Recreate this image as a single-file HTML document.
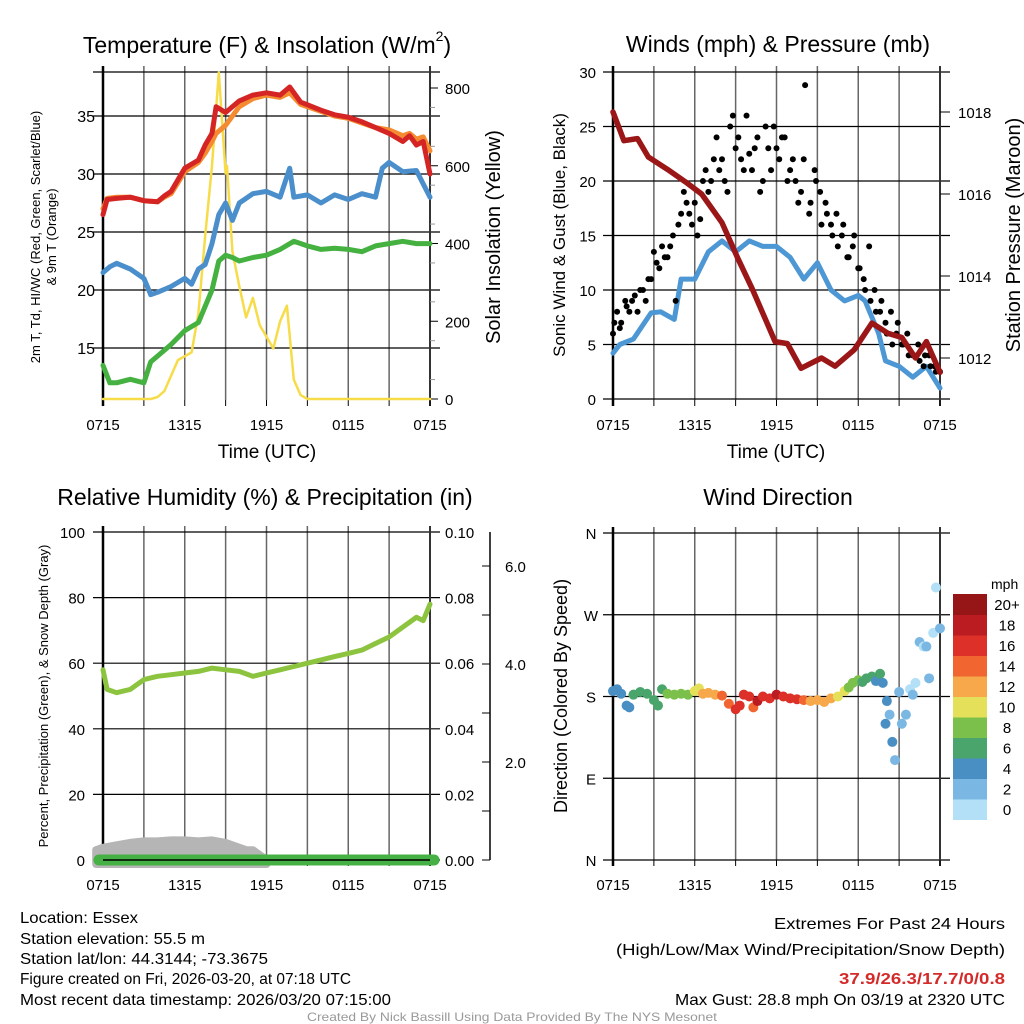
<!DOCTYPE html>
<html><head><meta charset="utf-8"><style>
body{margin:0;background:#fff;}
svg{display:block;font-family:"Liberation Sans",sans-serif;}
</style></head><body>
<svg id="c" width="1024" height="1024" viewBox="0 0 1024 1024">
<g id="g"></g>
</svg>
<script>
// ---- time axis (hours since 0715 UTC) ----
const timeTicks = ["0715","","1315","","1915","","0115","","0715"];
// ---- temperature panel ----
const tempT   = [0,0.3,1,2,3,4,4.5,5,6,7,7.5,8,8.3,9,10,11,12,13,13.7,14.5,16,17,18,19,20,21,22,22.5,23,23.5,24];
const tempRed = [26.5,27.8,27.9,28,27.7,27.6,28.1,28.5,30.5,31.2,32.5,33.5,35.8,35.3,36.3,36.8,37,36.8,37.5,36.2,35.5,35.1,34.9,34.5,34,33.5,32.8,33.3,32.5,32.8,30];
const tempOrange = [27,27.9,28,28,27.7,27.6,28,28.3,30.2,31,31.8,32.8,33.5,34.2,35.8,36.5,36.8,36.6,37,36,35.4,35,34.8,34.4,34,33.8,33.3,33.5,33,33.2,32];
const dewT    = [0,0.5,1,2,3,3.5,4,5,6,6.5,7,7.5,8,8.5,9,9.5,10,11,12,13,13.7,14,15,16,17,18,19,20,20.5,21,22,23,24];
const dewBlue = [21.5,22,22.3,21.8,21,19.6,19.8,20.3,21,20.5,21.8,22.2,24,26.5,27.5,26,27.5,28.3,28.5,28,30.5,28,28.2,27.5,28.2,27.8,28.3,28,30.5,31,30.2,30.3,28];
const greenT  = [0,0.5,1,2,3,3.5,4,5,6,7,8,8.5,9,9.5,10,11,12,13,14,15,16,17,18,19,20,21,22,23,24];
const greenV  = [13.5,12,12,12.3,12,13.8,14.3,15.3,16.5,17.2,20,22.5,23,22.8,22.5,22.8,23,23.5,24.2,23.8,23.5,23.6,23.5,23.3,23.8,24,24.2,24,24];
const solarT  = [0,3.5,4,4.5,5,5.5,6,6.5,7,7.5,8,8.5,9,9.1,9.5,10,10.5,11,11.5,12,12.5,13,13.5,14,14.5,15,24];
const solarV  = [0,0,5,20,60,100,110,120,220,420,600,840,580,600,380,290,210,260,190,160,130,200,240,50,10,0,0];
const tempTicks = [15,20,25,30,35];
const solarTicks = [0,200,400,600,800];
// ---- wind panel ----
const windT  = [0,0.5,1.5,2.8,3.5,4.5,5,6,7,8,9,10,11,12,13,14,15,16,17,18,18.5,19.5,20,21,22,23,24];
const windV  = [4.2,5,5.5,7.9,8,7.3,11,11,13.5,14.5,13.5,14.5,14,14,13,11,12.5,10,9,9.5,9,6,3.5,3,2,3,1];
const gustT  = [0,0.3,0.6,1,1.4,1.8,2.2,2.6,3,3.4,3.8,4.2,4.6,5,5.4,5.8,6.2,6.6,7,7.4,7.8,8.2,8.6,9,9.4,9.8,10.2,10.6,11,11.4,11.8,12.2,12.6,13,13.4,13.8,14.1,14.5,14.9,15.3,15.7,16.1,16.5,16.9,17.3,17.7,18.1,18.5,18.9,19.3,19.7,20.1,20.5,20.9,21.3,21.7,22.1,22.5,22.9,23.3,23.7,24];
const gustV  = [6,8,7,8.5,9,8,10,11,13.5,12,13,14,9,17,18,16,15,20,19,22,21,20,25,23,22,26,21,24,20,23,25,22,24,21,20,19,28.8,18,20,16,17,15,14,16,13,15,12,10,9,8,9,6,5,7,5,4,4,3.5,4,3,2.5,2.5];
const gust2T = [0.1,0.5,0.9,1.2,1.6,2,2.4,2.8,3.2,3.6,4,4.4,4.8,5.2,5.6,6,6.4,6.8,7.2,7.6,8,8.4,8.8,9.2,9.6,10,10.4,10.8,11.2,11.6,12,12.4,12.8,13.2,13.6,14,14.4,14.8,15.2,15.6,16,16.4,16.8,17.2,17.6,18,18.4,18.8,19.2,19.6,20,20.4,20.8,21.2,21.6,22,22.4,22.8,23.2,23.6];
const gust2V = [7,6.5,9,8,9.5,10,9,11,12.5,14,13,15,16,19,17,18,16.5,21,20,24,22,19,26,24,21,22.5,23,19,25,21,23,24,20,22,18,22,17,21,19,18,16,17,15,13,14,12,11,14,10,8,7,8,6,5,6,4,5,3,4,3];
const presT  = [0,0.8,1.8,2.6,4,5.3,6.5,8,9.2,10.2,11.9,12.8,13.8,15.3,16.3,17.7,19,20.2,21.2,22.2,23,24];
const presV  = [1018.0,1017.3,1017.35,1016.9,1016.6,1016.3,1016.0,1015.3,1014.4,1013.7,1012.4,1012.35,1011.75,1012,1011.8,1012.2,1012.85,1012.6,1012.5,1012.0,1012.4,1011.65];
const windTicks = [0,5,10,15,20,25,30];
const presTicks = [1012,1014,1016,1018];
// ---- humidity panel ----
const rhT  = [0,0.3,1,2,3,4,5,6,7,8,9,10,11,12,13,14,15,16,17,18,19,20,21,22,23,23.5,24];
const rhV  = [58,52,51,52,55,56,56.5,57,57.5,58.5,58,57.5,56,57,58,59,60,61,62,63,64,66,68,71,74,73,78];
const snowT = [-0.5,0,1,2,3,4,5,6,7,8,9,10,10.5,11,11.5,12];
const snowV = [0.2,0.25,0.3,0.35,0.38,0.38,0.4,0.4,0.38,0.4,0.35,0.25,0.2,0.2,0.1,0];
const rhTicks = [0,20,40,60,80,100];
const precipTicks = ["0.00","0.02","0.04","0.06","0.08","0.10"];
const snowTicks = ["2.0","4.0","6.0"];
// ---- wind direction panel ----
const dirT = [0,0.3,0.6,1,1.2,1.5,2,2.5,3,3.3,3.6,4,4.5,5,5.5,6,6.3,6.6,7,7.5,8,8.5,9,9.3,9.6,10,10.3,10.6,11,11.5,12,12.5,13,13.5,14,14.5,15,15.5,16,16.5,17,17.3,17.6,18,18.3,18.6,19,19.3,19.6,19.8,20,20.1,20.3,20.5,20.7,21,21.2,21.5,21.8,22,22.2,22.5,22.8,23,23.2,23.5,23.7,24];
const dirV = [186,188,183,170,168,182,185,183,176,170,188,183,182,183,182,186,189,183,184,182,181,172,166,170,182,180,168,175,180,178,182,180,178,177,176,175,176,174,178,180,186,190,195,198,196,200,202,197,205,195,150,175,160,130,110,185,150,160,188,182,195,240,235,235,200,250,300,255];
const dirS = [4,5,4,4,4,6,6,6,7,6,7,8,8,8,8,10,11,12,12,13,14,14,16,16,17,16,15,18,16,17,19,17,16,16,15,13,12,12,12,10,10,8,9,8,7,6,7,5,6,4,4,4,2,4,2,2,3,2,1,2,1,2,1,2,2,1,0,2];
const legendLabels = ["0","2","4","6","8","10","12","14","16","18","20+"];
const legendColors = ["#b3e0f7","#7ab8e3","#4a8fc4","#4aa56d","#7ac04a","#e5e05a","#f6a84a","#f06530","#dc3028","#ba1c22","#961618"];
const dirTicks = ["N","E","S","W","N"];

const NS="http://www.w3.org/2000/svg";
const G=document.getElementById('g');
function mk(tag,attrs,parent,text){const e=document.createElementNS(NS,tag);for(const k in attrs)e.setAttribute(k,attrs[k]);if(text!==undefined)e.textContent=text;(parent||G).appendChild(e);return e;}
function lin(d0,d1,r0,r1){return v=>r0+(v-d0)*(r1-r0)/(d1-d0);}
function pathOf(ts,vs,fx,fy){return ts.map((t,i)=>(i?'L':'M')+fx(t).toFixed(1)+','+fy(vs[i]).toFixed(1)).join('');}

function frame(x0,x1,y0,y1,hTicksY,name){
  const g=mk('g',{});
  
  
  const fx=lin(0,24,x0,x1);
  for(let i=1;i<8;i++){mk('line',{x1:fx(i*3),x2:fx(i*3),y1:y0-6,y2:y1,stroke:'#666','stroke-width':1.5},g);}
  hTicksY.forEach(y=>{mk('line',{x1:x0-10,x2:x1+10,y1:y,y2:y,stroke:'#000','stroke-width':1.2},g);});
  mk('line',{x1:x0,x2:x0,y1:y0-6,y2:y1+6,stroke:'#000','stroke-width':2.5},g);
  mk('line',{x1:x1,x2:x1,y1:y0-6,y2:y1+6,stroke:'#333','stroke-width':2},g);
  for(let i=0;i<=8;i++){
    mk('line',{x1:fx(i*3),x2:fx(i*3),y1:y1,y2:y1+6,stroke:'#000','stroke-width':1},g);
    if(timeTicks[i]){const t=mk('text',{x:fx(i*3),y:y1+30,'font-size':15,'text-anchor':'middle'},g,timeTicks[i]);
      }
  }
  return fx;
}
function txt(x,y,s,str,name,extra){const t=mk('text',Object.assign({x:x,y:y,'font-size':s},extra||{}),G,str);
  return t;}
function vtxt(x,y,s,str,name){const t=mk('text',{x:0,y:0,'font-size':s,'text-anchor':'middle',transform:`translate(${x},${y}) rotate(-90)`},G,str);
  return t;}
function series(d,color,w,name,parent){const p=mk('path',{d:d,fill:'none',stroke:color,'stroke-width':w,'stroke-linejoin':'round','stroke-linecap':'round'},parent);
  return p;}

// ===== Panel 1: Temperature =====
{
 const fyT=lin(35,30,116,174), fyS=lin(0,800,399,88);
 const fx=frame(103,430,72,400,[72].concat(tempTicks.map(fyT)),'temperature');
 tempTicks.forEach(v=>txt(95,fyT(v)+6,16,String(v),'temp-y-tick',{'text-anchor':'end'}));
 solarTicks.forEach(v=>{txt(445,fyS(v)+6,15,String(v),'solar-y-tick');mk('line',{x1:430,x2:438,y1:fyS(v),y2:fyS(v),stroke:'#000'});});
 for(let v=50;v<800;v+=100)mk('line',{x1:430,x2:435,y1:fyS(v),y2:fyS(v),stroke:'#999'});
 series(pathOf(solarT,solarV,fx,fyS),'#f7dc4a',2.5,'solar-insolation-line');
 series(pathOf(greenT,greenV,fx,fyT),'#44b140',5,'hi-wc-line');
 series(pathOf(dewT,dewBlue,fx,fyT),'#4a8fcb',5,'dewpoint-line');
 series(pathOf(tempT,tempOrange,fx,fyT),'#f58b30',5,'temp-9m-line');
 series(pathOf(tempT,tempRed,fx,fyT),'#d42424',5,'temp-2m-line');
 const tt=txt(267,53,23,'Temperature (F) & Insolation (W/m','temp-title',{'text-anchor':'middle'});
 mk('tspan',{'font-size':14,dy:-12},tt,'2');
 mk('tspan',{dy:12},tt,')');
 txt(267,458,19,'Time (UTC)','temp-x-title',{'text-anchor':'middle'});
 vtxt(40,237,13,'2m T, Td, HI/WC (Red, Green, Scarlet/Blue)','temp-y-title');
 vtxt(56,237,13,'& 9m T (Orange)','temp-y-title-2');
 vtxt(500,237,20,'Solar Insolation (Yellow)','solar-y-title');
}
// ===== Panel 2: Winds =====
{
 const fyW=lin(0,30,399,72), fyP=lin(1018,1012,112,358);
 const fx=frame(613,940,72,400,windTicks.map(fyW),'winds');
 windTicks.forEach(v=>txt(596,fyW(v)+6,15,String(v),'wind-y-tick',{'text-anchor':'end'}));
 presTicks.forEach(v=>{txt(958,fyP(v)+6,15,String(v),'pressure-y-tick');mk('line',{x1:940,x2:950,y1:fyP(v),y2:fyP(v),stroke:'#000'});});
 series(pathOf(windT,windV,fx,fyW),'#4d97d4',5,'sonic-wind-line');
 const gg=mk('g',{});
 gustT.forEach((t,i)=>{const c=mk('circle',{cx:fx(t),cy:fyW(gustV[i]),r:3,fill:'#000'},gg);
   });
 gust2T.forEach((t,i)=>{const c=mk('circle',{cx:fx(t),cy:fyW(gust2V[i]),r:3,fill:'#000'},gg);
   });
 series(pathOf(presT,presV,fx,fyP),'#9b1616',5.5,'pressure-line');
 txt(778,52,23,'Winds (mph) & Pressure (mb)','winds-title',{'text-anchor':'middle'});
 txt(776,458,19,'Time (UTC)','winds-x-title',{'text-anchor':'middle'});
 vtxt(565,235,17,'Sonic Wind & Gust (Blue, Black)','wind-y-title');
 vtxt(1020,235,20,'Station Pressure (Maroon)','pressure-y-title');
}
// ===== Panel 3: Humidity =====
{
 const fyR=lin(0,100,860,532), fyS=lin(0,2,860,762);
 const fx=frame(103,430,532,860,rhTicks.map(fyR),'humidity');
 rhTicks.forEach(v=>txt(85,fyR(v)+6,15,String(v),'rh-y-tick',{'text-anchor':'end'}));
 precipTicks.forEach((s,i)=>txt(445,fyR(i*20)+6,15,s,'precip-y-tick'));
 mk('line',{x1:490,x2:490,y1:532,y2:860,stroke:'#000','stroke-width':1.5});
 for(let v=0;v<=6.6;v+=1){mk('line',{x1:482,x2:490,y1:fyS(v),y2:fyS(v),stroke:'#000'});}
 snowTicks.forEach((s,i)=>txt(505,fyS((i+1)*2)+6,15,s,'snow-y-tick'));
 const ap=pathOf(snowT,snowV,fx,fyS)+`L${fx(12)},${fyS(0)+4}L${fx(-0.5)},${fyS(0)+4}Z`;
 const a=mk('path',{d:ap,fill:'#b5b5b5',stroke:'#b5b5b5','stroke-width':8,'stroke-linejoin':'round'});
 
 series(pathOf(rhT,rhV,fx,fyR),'#8cc43f',5,'humidity-line');
 series(`M${fx(-0.3)},860L${fx(24.3)},860`,'#45b043',11,'precipitation-line');
 mk('line',{x1:103,x2:430,y1:860,y2:860,stroke:'#000','stroke-width':1.5});
 txt(265,505,23,'Relative Humidity (%) & Precipitation (in)','humidity-title',{'text-anchor':'middle'});
 vtxt(48,696,13,'Percent, Precipitation (Green), & Snow Depth (Gray)','humidity-y-title');
}
// ===== Panel 4: Wind direction =====
{
 const fyD=lin(0,360,860,533);
 const fx=frame(613,940,533,860,[0,90,180,270,360].map(fyD),'wind-direction');
 dirTicks.forEach((s,i)=>txt(591,fyD(i*90)+6,15,s,'dir-y-tick',{'text-anchor':'middle'}));
 const gd=mk('g',{});
 dirT.forEach((t,i)=>{const bin=Math.min(10,Math.floor(dirS[i]/2));
   const c=mk('circle',{cx:fx(t),cy:fyD(dirV[i]),r:5,fill:legendColors[bin]},gd);
   });
 txt(778,505,23,'Wind Direction','direction-title',{'text-anchor':'middle'});
 vtxt(567,696,18,'Direction (Colored By Speed)','direction-y-title');
 txt(991,589,14,'mph','legend-title');
 const lg=mk('g',{});
 legendColors.forEach((c,i)=>{const y=594+(10-i)*20.5;
   const r=mk('rect',{x:953,y:y,width:34,height:21,fill:c},lg);
   
   const t=mk('text',{x:1007,y:y+16,'font-size':15,'text-anchor':'middle'},lg,legendLabels[i]);
   });
}
// ===== Footer =====
const LA={lengthAdjust:'spacingAndGlyphs'};
txt(20,923,16,'Location: Essex','location-text',Object.assign({textLength:118},LA));
txt(20,944,16,'Station elevation: 55.5 m','elevation-text',Object.assign({textLength:185},LA));
txt(20,964,16,'Station lat/lon: 44.3144; -73.3675','latlon-text',Object.assign({textLength:248},LA));
txt(20,984,16,'Figure created on Fri, 2026-03-20, at 07:18 UTC','created-text',Object.assign({textLength:331},LA));
txt(20,1005,16,'Most recent data timestamp: 2026/03/20 07:15:00','timestamp-text',Object.assign({textLength:371},LA));
txt(1005,929,16,'Extremes For Past 24 Hours','extremes-title',Object.assign({'text-anchor':'end',textLength:231},LA));
txt(1005,955,16,'(High/Low/Max Wind/Precipitation/Snow Depth)','extremes-subtitle',Object.assign({'text-anchor':'end',textLength:389},LA));
txt(1005,984,16,'37.9/26.3/17.7/0/0.8','extremes-values',Object.assign({'text-anchor':'end','font-weight':'bold',fill:'#d42a2a',textLength:166},LA));
txt(1005,1005,16,'Max Gust: 28.8 mph On 03/19 at 2320 UTC','max-gust-text',Object.assign({'text-anchor':'end',textLength:330},LA));
txt(512,1021,12,'Created By Nick Bassill Using Data Provided By The NYS Mesonet','credit-text',Object.assign({'text-anchor':'middle',fill:'#999',textLength:410},LA));
</script>
</body></html>
